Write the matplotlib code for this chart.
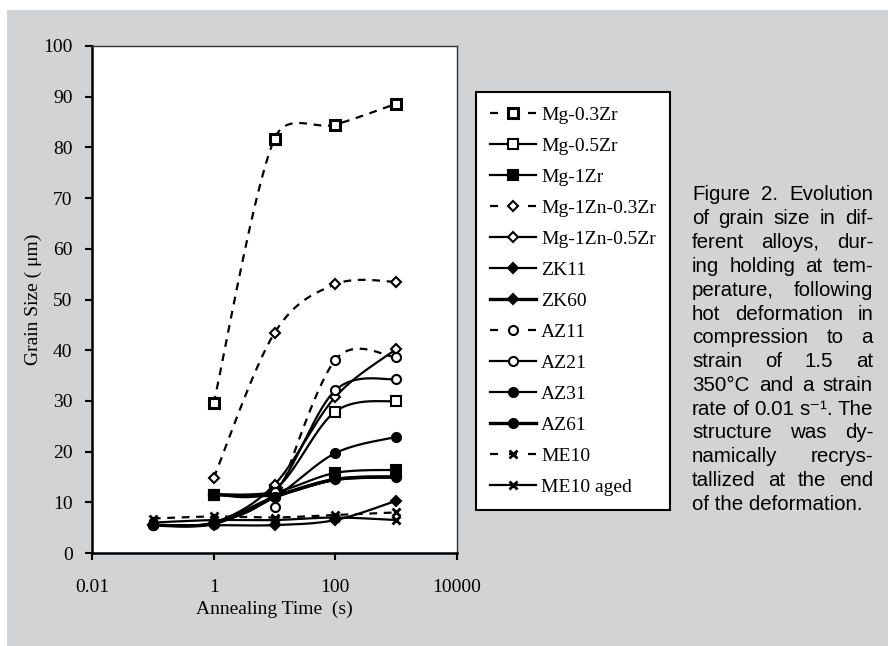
import numpy as np
import matplotlib
matplotlib.use("Agg")
import matplotlib.pyplot as plt
from matplotlib.patches import Rectangle
from matplotlib.lines import Line2D

# ---------------- data ----------------
times = [0.1, 1, 10, 100, 1000]
nan = np.nan
mg03zr   = [nan, 29.5, 81.7, 84.5, 88.6]
mg05zr   = [nan, 11.5, 12.5, 27.9, 30.0]
mg1zr    = [nan, 11.5, 12.0, 15.8, 16.4]
mg1zn03  = [nan, 14.8, 43.4, 53.0, 53.5]
mg1zn05  = [5.5, 6.0, 13.5, 30.8, 40.2]
zk11     = [5.5, 5.5, 5.5, 6.5, 10.3]
zk60     = [nan, 11.5, 11.5, 14.5, 15.0]
az11     = [nan, nan, 9.0, 38.1, 38.6]
az21     = [5.5, 6.0, 12.0, 32.1, 34.3]
az31     = [5.5, 5.8, 11.0, 19.7, 22.9]
az61     = [5.5, 5.8, 11.0, 14.5, 15.0]
me10     = [6.8, 7.2, 7.0, 7.5, 8.0]
me10aged = [6.0, 6.5, 6.5, 7.0, 6.5]

labels = ["Mg-0.3Zr", "Mg-0.5Zr", "Mg-1Zr", "Mg-1Zn-0.3Zr", "Mg-1Zn-0.5Zr",
          "ZK11", "ZK60", "AZ11", "AZ21", "AZ31", "AZ61", "ME10", "ME10 aged"]
series = [mg03zr, mg05zr, mg1zr, mg1zn03, mg1zn05, zk11, zk60, az11, az21,
          az31, az61, me10, me10aged]

xticks = [0.01, 1, 100, 10000]
xticklabels = ["0.01", "1", "100", "10000"]
yticks = list(range(0, 101, 10))

# ---------------- styles ----------------
DASH = (3.5, 3.0)
LEG_DASH = (3.6, 4.95)
styles = [
    dict(ls="dash", marker="s", mfc="white", ms=6.5, mew=2.2, lw=1.6),
    dict(ls="solid", marker="s", mfc="white", ms=6.5, mew=1.5, lw=1.6),
    dict(ls="solid", marker="s", mfc="black", ms=6.5, mew=1.5, lw=1.6),
    dict(ls="dash", marker="D", mfc="white", ms=5.5, mew=1.5, lw=1.6),
    dict(ls="solid", marker="D", mfc="white", ms=5.5, mew=1.5, lw=1.6),
    dict(ls="solid", marker="D", mfc="black", ms=5.5, mew=1.5, lw=1.6),
    dict(ls="solid", marker="D", mfc="black", ms=5.5, mew=1.5, lw=2.4),
    dict(ls="dash", marker="o", mfc="white", ms=6.5, mew=1.5, lw=1.6),
    dict(ls="solid", marker="o", mfc="white", ms=6.5, mew=1.5, lw=1.6),
    dict(ls="solid", marker="o", mfc="black", ms=6.5, mew=1.5, lw=1.6),
    dict(ls="solid", marker="o", mfc="black", ms=6.5, mew=1.5, lw=2.4),
    dict(ls="dash", marker="x", mfc="black", ms=5.5, mew=2.0, lw=1.6),
    dict(ls="solid", marker="x", mfc="black", ms=5.5, mew=2.0, lw=1.6),
]

GRAY = "#d2d3d5"
SERIF = ["Liberation Serif", "DejaVu Serif"]
SANS = ["Liberation Sans", "DejaVu Sans"]

W, H = 888, 646
fig = plt.figure(figsize=(W / 100, H / 100), dpi=100)
fig.patch.set_facecolor("white")
fig.add_artist(Rectangle((7 / W, 0), 1 - 7 / W, 1 - 10 / H,
                         transform=fig.transFigure, facecolor=GRAY,
                         edgecolor="none", zorder=-10))

ax_l, ax_r, ax_t, ax_b = 92, 457, 46, 553
ax = fig.add_axes([ax_l / W, 1 - ax_b / H, (ax_r - ax_l) / W, (ax_b - ax_t) / H])
ax.set_facecolor("white")
ax.set_xscale("log")
ax.set_xlim(0.01, 10000)
ax.set_ylim(0, 100)

# pixel scale factors for smoothing (Excel-like smoothing in screen space)
px_per_dec = (ax_r - ax_l) / 6.0
px_per_unit = (ax_b - ax_t) / 100.0


def smooth(xs, ys, n=40):
    pts = [(np.log10(x) * px_per_dec, y * px_per_unit)
           for x, y in zip(xs, ys) if not np.isnan(y)]
    pts = np.array(pts)
    m = len(pts)
    out = [pts[0]]
    for i in range(m - 1):
        p0 = pts[i - 1] if i > 0 else pts[i]
        p1 = pts[i]
        p2 = pts[i + 1]
        p3 = pts[i + 2] if i + 2 < m else pts[i + 1]
        d12 = np.hypot(*(p2 - p1))
        d02 = np.hypot(*(p2 - p0))
        d13 = np.hypot(*(p3 - p1))
        f1 = min(1 / 6, 0.5 * d12 / d02) if d02 > 0 else 0
        f2 = min(1 / 6, 0.5 * d12 / d13) if d13 > 0 else 0
        c1 = p1 + (p2 - p0) * f1
        c2 = p2 - (p3 - p1) * f2
        t = np.linspace(0, 1, n)[1:, None]
        b = ((1 - t) ** 3) * p1 + 3 * ((1 - t) ** 2) * t * c1 + \
            3 * (1 - t) * t ** 2 * c2 + t ** 3 * p2
        out.extend(b)
    out = np.array(out)
    return 10 ** (out[:, 0] / px_per_dec), out[:, 1] / px_per_unit


handles = []
for lab, ys, st in zip(labels, series, styles):
    sx, sy = smooth(times, ys)
    if st["ls"] == "dash":
        ls_kw = dict(linestyle=(0, DASH))
        leg_kw = dict(linestyle=(0, LEG_DASH))
    else:
        ls_kw = dict(linestyle="-")
        leg_kw = dict(linestyle="-")
    ax.plot(sx, sy, color="black", lw=st["lw"], solid_capstyle="butt",
            dash_capstyle="butt", zorder=2, **ls_kw)
    ax.plot(times, ys, linestyle="none", marker=st["marker"], ms=st["ms"],
            mfc=st["mfc"], mec="black", mew=st["mew"], zorder=3)
    handles.append(Line2D([], [], color="black", lw=st["lw"], marker=st["marker"],
                          ms=st["ms"], mfc=st["mfc"], mec="black", mew=st["mew"],
                          dash_capstyle="butt", **leg_kw))

for side in ["top", "right"]:
    ax.spines[side].set_linewidth(1.0)
    ax.spines[side].set_color("#333333")
for side in ["left", "bottom"]:
    ax.spines[side].set_linewidth(1.8)
    ax.spines[side].set_color("black")

ax.set_xticks(xticks)
ax.set_xticklabels(xticklabels)
ax.xaxis.set_minor_locator(matplotlib.ticker.NullLocator())
ax.set_yticks(yticks)
ax.tick_params(axis="both", direction="out", length=5, width=1.5, color="black",
               labelsize=14)
ax.tick_params(axis="x", pad=14)
ax.tick_params(axis="y", pad=9)
for t in ax.get_xticklabels() + ax.get_yticklabels():
    t.set_fontfamily(SERIF)

ax.set_xlabel("Annealing Time  (s)", fontsize=14, family=SERIF, labelpad=3)
ax.set_ylabel("Grain Size ( μm)", fontsize=14, family=SERIF)
ax.yaxis.set_label_coords((42 - ax_l) / (ax_r - ax_l), 0.5)

leg = fig.legend(handles, labels, loc="upper left",
                 bbox_to_anchor=(476 / W, 1 - 92 / H), bbox_transform=fig.transFigure,
                 borderaxespad=0, frameon=True, fancybox=False, framealpha=1,
                 edgecolor="black", facecolor="white", numpoints=1,
                 handlelength=2.37, handletextpad=0.26, labelspacing=0.69,
                 borderpad=0.72, prop=dict(family=SERIF, size=14))
leg.get_frame().set_linewidth(1.5)

# ---------------- caption (justified) ----------------
cap_lines = ["Figure 2. Evolution", "of grain size in dif-", "ferent alloys, dur-",
             "ing holding at tem-", "perature, following", "hot deformation in",
             "compression to a", "strain of 1.5 at", "350°C and a strain",
             "rate of 0.01 s⁻¹. The", "structure was dy-", "namically recrys-",
             "tallized at the end", "of the deformation."]
cap_x0, cap_x1 = 692, 873
cap_y0, cap_dy = 195, 23.8
cap_size = 14.8

fig.canvas.draw()
renderer = fig.canvas.get_renderer()
for i, line in enumerate(cap_lines):
    y = 1 - (cap_y0 + i * cap_dy) / H
    words = line.split(" ")
    if i == len(cap_lines) - 1 or len(words) == 1:
        fig.text(cap_x0 / W, y, line, fontsize=cap_size, family=SANS,
                 va="center", ha="left")
        continue
    widths = []
    txts = []
    for w in words:
        t = fig.text(0, 0, w, fontsize=cap_size, family=SANS, va="center", ha="left")
        bb = t.get_window_extent(renderer)
        widths.append(bb.width)
        txts.append(t)
    gap = ((cap_x1 - cap_x0) - sum(widths)) / (len(words) - 1)
    x = cap_x0
    for t, wdt in zip(txts, widths):
        t.set_position((x / W, y))
        x += wdt + gap

fig.savefig("out.png", dpi=100, facecolor=fig.get_facecolor())
